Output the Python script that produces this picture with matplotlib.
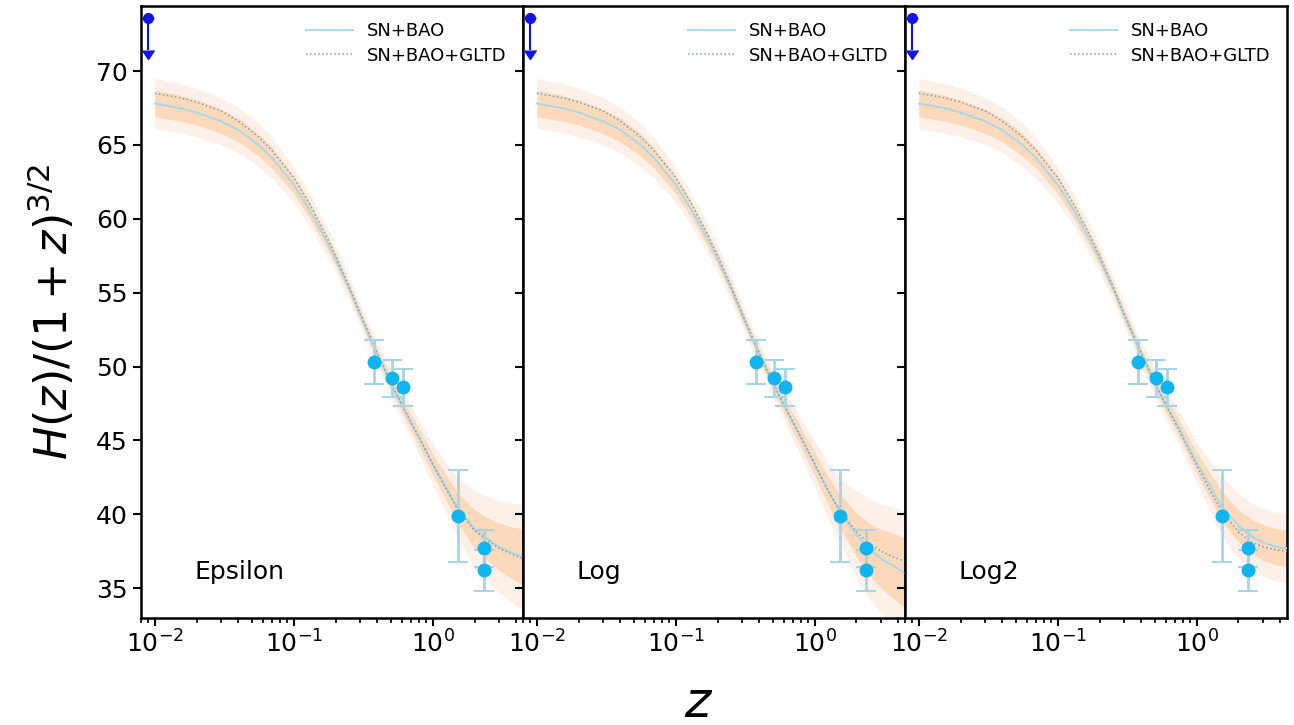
import matplotlib
matplotlib.use("Agg")
import matplotlib.pyplot as plt
import numpy as np

# model curves
z_model = [0.01, 0.015, 0.02, 0.03, 0.04, 0.055, 0.07, 0.1, 0.13, 0.17, 0.2,
           0.25, 0.3, 0.4, 0.5, 0.6, 0.7, 0.85, 1.0, 1.25, 1.5, 2.0, 2.5,
           3.0, 3.7, 4.5]

sn_bao_eps = [67.8, 67.5, 67.2, 66.6, 66.0, 65.05, 64.1, 62.3, 60.6, 58.6,
              57.3, 55.3, 53.5, 50.8, 48.9, 47.4, 46.2, 44.7, 43.4, 41.8,
              40.5, 39.0, 38.3, 37.8, 37.4, 37.1]
gltd_eps = [68.5, 68.2, 67.9, 67.3, 66.6, 65.6, 64.6, 62.8, 61.0, 58.9,
            57.5, 55.4, 53.6, 50.9, 48.9, 47.4, 46.2, 44.7, 43.4, 41.7,
            40.4, 38.9, 38.2, 37.7, 37.3, 37.0]
inner_eps = [0.9, 0.88, 0.85, 0.82, 0.8, 0.75, 0.7, 0.6, 0.55, 0.5, 0.45,
             0.42, 0.4, 0.4, 0.45, 0.5, 0.55, 0.62, 0.7, 0.85, 1.0, 1.3,
             1.45, 1.6, 1.75, 1.9]
outer_eps = [1.7, 1.68, 1.65, 1.6, 1.55, 1.48, 1.4, 1.2, 1.1, 1.0, 0.9,
             0.85, 0.8, 0.8, 0.9, 1.0, 1.1, 1.25, 1.4, 1.7, 2.0, 2.6, 2.9,
             3.1, 3.35, 3.6]

sn_bao_log = [67.8, 67.5, 67.2, 66.6, 66.0, 65.05, 64.1, 62.3, 60.6, 58.6,
              57.3, 55.3, 53.5, 50.8, 48.9, 47.4, 46.2, 44.7, 43.4, 41.6,
              40.3, 38.6, 37.6, 37.0, 36.5, 36.0]
gltd_log = [68.5, 68.2, 67.9, 67.3, 66.6, 65.6, 64.6, 62.8, 61.0, 58.9,
            57.5, 55.4, 53.6, 50.9, 48.9, 47.4, 46.2, 44.7, 43.4, 41.6,
            40.3, 38.8, 38.0, 37.5, 37.1, 36.8]
inner_log = [0.9, 0.88, 0.85, 0.82, 0.8, 0.75, 0.7, 0.6, 0.55, 0.5, 0.45,
             0.42, 0.4, 0.4, 0.45, 0.5, 0.6, 0.7, 0.8, 0.95, 1.1, 1.5,
             1.75, 2.0, 2.2, 2.4]
outer_log = [1.7, 1.68, 1.65, 1.6, 1.55, 1.48, 1.4, 1.2, 1.1, 1.0, 0.9,
             0.85, 0.8, 0.8, 0.9, 1.0, 1.2, 1.4, 1.6, 1.9, 2.2, 3.0, 3.4,
             3.7, 4.0, 4.2]

sn_bao_log2 = [67.8, 67.5, 67.2, 66.6, 66.0, 65.05, 64.1, 62.3, 60.6, 58.6,
               57.3, 55.3, 53.5, 50.8, 48.9, 47.4, 46.3, 44.8, 43.5, 41.9,
               40.6, 39.2, 38.5, 38.1, 37.8, 37.7]
gltd_log2 = [68.5, 68.2, 67.9, 67.3, 66.6, 65.6, 64.6, 62.8, 61.0, 58.9,
             57.5, 55.4, 53.6, 50.9, 48.9, 47.4, 46.2, 44.6, 43.3, 41.6,
             40.3, 38.8, 38.1, 37.8, 37.6, 37.5]
inner_log2 = [0.9, 0.88, 0.85, 0.82, 0.8, 0.75, 0.7, 0.6, 0.55, 0.5, 0.45,
              0.42, 0.4, 0.4, 0.45, 0.5, 0.55, 0.62, 0.7, 0.85, 1.0, 1.1,
              1.15, 1.2, 1.22, 1.25]
outer_log2 = [1.7, 1.68, 1.65, 1.6, 1.55, 1.48, 1.4, 1.2, 1.1, 1.0, 0.9,
              0.85, 0.8, 0.8, 0.9, 1.0, 1.1, 1.25, 1.4, 1.7, 2.0, 2.2, 2.25,
              2.3, 2.32, 2.35]

# BAO points
z_bao = [0.38, 0.51, 0.61, 1.52, 2.33, 2.33]
h_bao = [50.3, 49.2, 48.6, 39.9, 37.7, 36.2]
err_bao = [1.5, 1.25, 1.25, 3.1, 1.25, 1.4]

# local H0 upper limit point
z_h0 = [0.009]
h_h0 = [73.6]
err_h0 = [2.2]

panels = [
    ("Epsilon", sn_bao_eps, gltd_eps, inner_eps, outer_eps),
    ("Log", sn_bao_log, gltd_log, inner_log, outer_log),
    ("Log2", sn_bao_log2, gltd_log2, inner_log2, outer_log2),
]

fig, axes = plt.subplots(1, 3, figsize=(12.94, 7.25), dpi=100, sharey=True)
fig.subplots_adjust(left=0.109, right=0.9946, top=0.9917, bottom=0.148,
                    wspace=0)

z = np.array(z_model)
for ax, (name, solid, dotted, inner, outer) in zip(axes, panels):
    solid = np.array(solid)
    inner = np.array(inner)
    outer = np.array(outer)
    ax.fill_between(z, solid - outer, solid + outer, color="#fdf0e8",
                    linewidth=0, zorder=1)
    ax.fill_between(z, solid - inner, solid + inner, color="#fcd9bb",
                    linewidth=0, zorder=2)
    ax.plot(z, solid, color="#a8d8e8", lw=1.4, label="SN+BAO", zorder=3)
    ax.plot(z, dotted, color="#7f9fb0", lw=1.1, ls=":",
            label="SN+BAO+GLTD", zorder=4)

    ax.errorbar(z_bao, h_bao, yerr=err_bao, fmt="o", color="#10b4f0",
                ms=9, ecolor="#a8d4e6", elinewidth=2, capsize=7,
                capthick=1.5, zorder=5)
    ax.errorbar(z_h0, h_h0, yerr=err_h0, uplims=True, fmt="o",
                color="#1010e8", ms=7, elinewidth=1.5, capsize=4.5,
                zorder=6, clip_on=False)

    ax.set_xscale("log")
    ax.set_xlim(0.00796, 4.47)
    ax.set_ylim(33.0, 74.4)
    ax.set_yticks([35, 40, 45, 50, 55, 60, 65, 70])
    ax.text(0.14, 0.075, name, transform=ax.transAxes, fontsize=18,
            ha="left", va="center")
    ax.legend(loc="upper right", frameon=False, fontsize=13,
              handlelength=2.6, borderaxespad=0.5, labelspacing=0.35)
    for s in ax.spines.values():
        s.set_linewidth(1.8)
    ax.tick_params(which="major", direction="out", length=6, width=1.5,
                   labelsize=18)
    ax.tick_params(which="minor", direction="out", length=3.5, width=1.2)

axes[0].set_ylabel(r"$H(z)/(1+z)^{3/2}$", fontsize=32, labelpad=14)
fig.text(0.54, 0.03, r"$z$", fontsize=36, ha="center", va="center")

fig.savefig("out.png", dpi=100)
